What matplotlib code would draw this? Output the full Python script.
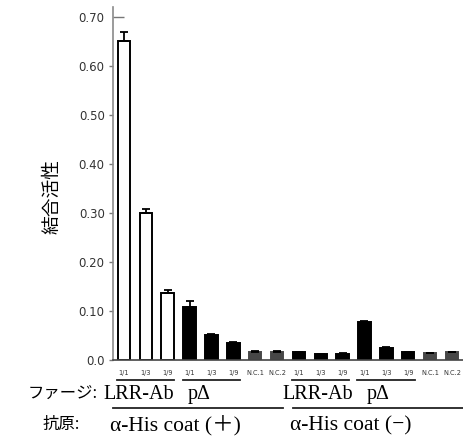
import matplotlib
matplotlib.use("Agg")
import matplotlib.pyplot as plt
import matplotlib.lines as mlines
import matplotlib.transforms as mtrans
import numpy as np

# ---- data ----
bar_labels = ["1/1", "1/3", "1/9", "1/1", "1/3", "1/9", "N.C.1", "N.C.2",
              "1/1", "1/3", "1/9", "1/1", "1/3", "1/9", "N.C.1", "N.C.2"]
values = [0.650, 0.300, 0.137, 0.108, 0.052, 0.035, 0.017, 0.017,
          0.016, 0.012, 0.013, 0.077, 0.025, 0.016, 0.014, 0.016]
errors = [0.018, 0.008, 0.005, 0.012, 0.002, 0.002, 0.001, 0.001,
          0.001, 0.001, 0.001, 0.003, 0.002, 0.001, 0.001, 0.001]
bar_kind = ["white"] * 3 + ["black"] * 3 + ["gray"] * 2 + ["black"] * 6 + ["gray"] * 2
yticks = [0.0, 0.10, 0.20, 0.30, 0.40, 0.50, 0.60, 0.70]
ytick_labels = ["0.0", "0.10", "0.20", "0.30", "0.40", "0.50", "0.60", "0.70"]
phage_groups = [("LRR-Ab", 0, 2), ("p\u0394", 3, 5), ("LRR-Ab", 8, 10), ("p\u0394", 11, 13)]
antigen_labels = ["\u03b1-His coat (\uff0b)", "\u03b1-His coat (\u2212)"]
ylabel = "結合活性"

W, H = 464, 437
fig = plt.figure(figsize=(W / 100, H / 100), dpi=100)
ax = fig.add_axes([113 / W, 77 / H, 351 / W, 353 / H])

face = {"white": "white", "black": "black", "gray": "#474747"}
edge = {"white": "black", "black": "black", "gray": "#474747"}
x = np.arange(len(values))
ax.bar(x, values, width=0.57, color=[face[k] for k in bar_kind],
       edgecolor=[edge[k] for k in bar_kind], linewidth=1.4, zorder=2)
ax.errorbar(x, values, yerr=[np.zeros(len(errors)), errors], fmt="none",
            ecolor="black", elinewidth=1.3, capsize=3.2, capthick=1.3, zorder=3)

ax.set_xlim(-0.5, 15.55)
ax.set_ylim(0, 0.72)
ax.set_yticks(yticks)
ax.set_yticklabels(ytick_labels, fontsize=8.5, color="#333333")
ax.tick_params(axis="y", direction="out", length=3, width=1, color="#777777", pad=3)
ax.set_xticks(x)
ax.set_xticklabels(bar_labels, fontsize=4.8, color="#333333")
ax.tick_params(axis="x", length=0, pad=7)
for s in ["top", "right"]:
    ax.spines[s].set_visible(False)
ax.spines["left"].set_color("#8a8a8a")
ax.spines["left"].set_linewidth(1.2)
ax.spines["bottom"].set_color("#444444")
ax.spines["bottom"].set_linewidth(1.2)

# top tick points inward
fig.canvas.draw()
for t in ax.yaxis.get_major_ticks():
    if abs(t.get_loc() - 0.70) < 1e-9:
        t.tick1line.set_marker(mlines.TICKRIGHT)
        t.tick1line.set_markersize(8)

# group underlines (x in data, y in figure)
blend = mtrans.blended_transform_factory(ax.transData, fig.transFigure)
for name, a, b in phage_groups:
    fig.add_artist(mlines.Line2D([a - 0.32, b + 0.3], [1 - 380 / H] * 2,
                                 transform=blend, color="#222222", linewidth=1.3))

serif = ["Liberation Serif", "Noto Sans CJK JP"]
cjk = ["Noto Sans CJK JP", "DejaVu Sans"]

def ftext(px, py, s, **kw):
    fig.text(px / W, 1 - py / H, s, **kw)

ftext(98, 393, "ファージ:", fontsize=11.8, family=cjk, va="center", ha="right")
ftext(43, 424, "抗原:", fontsize=11.8, family=cjk, va="center", ha="left")
phage_x = [103, 188, 282, 367]
for (name, a, b), px in zip(phage_groups, phage_x):
    ftext(px, 399, name, fontsize=14.5, family=serif, va="baseline", ha="left")
ftext(110, 430, antigen_labels[0], fontsize=15.5, family=serif, va="baseline", ha="left")
ftext(290, 430, antigen_labels[1], fontsize=15.5, family=serif, va="baseline", ha="left")

fig.add_artist(mlines.Line2D([113 / W, 283 / W], [1 - 408 / H] * 2,
                             transform=fig.transFigure, color="#222222", linewidth=1.3))
fig.add_artist(mlines.Line2D([293 / W, 1.0], [1 - 408 / H] * 2,
                             transform=fig.transFigure, color="#222222", linewidth=1.3))

ftext(51.5, 196, ylabel, fontsize=13.5, family=cjk, rotation=90, va="center", ha="center")

fig.savefig("out.png", dpi=100)
